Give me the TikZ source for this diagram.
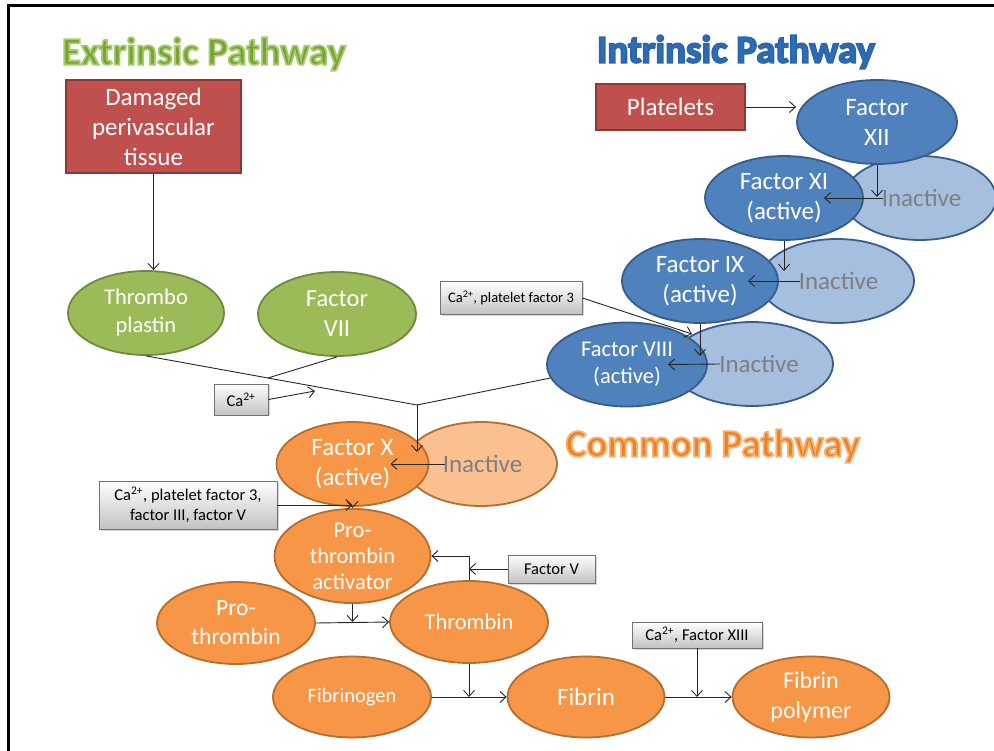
\documentclass[tikz,border=0pt]{standalone}
\usepackage{fontspec}
\setmainfont{Carlito}
\usetikzlibrary{shapes.geometric,arrows.meta,shadows,calc}
\definecolor{redf}{HTML}{C0504D}
\definecolor{redd}{HTML}{8C3836}
\definecolor{grnf}{HTML}{9BBB59}
\definecolor{grnd}{HTML}{71893F}
\definecolor{bluf}{HTML}{4F81BD}
\definecolor{blud}{HTML}{385D8A}
\definecolor{bluL}{HTML}{A7BFDE}
\definecolor{orf}{HTML}{F79646}
\definecolor{ord}{HTML}{B66D31}
\definecolor{orL}{HTML}{FAC090}
\definecolor{inact}{HTML}{7F7F7F}
\definecolor{grnT}{HTML}{76A236}
\definecolor{bluT}{HTML}{2E6DB6}
\definecolor{orT}{HTML}{EB8120}
\newcommand{\outlinedtext}[2]{\special{pdf:literal direct #1 RG 2 Tr 1.8 w}#2\special{pdf:literal direct 0 Tr}}
\newcommand{\fsz}[2]{\fontsize{#1}{#2}\selectfont}
\tikzset{
  redbox/.style={draw=redd, fill=redf, line width=1.5pt, text=white, align=center, inner sep=0pt},
  ell/.style={ellipse, line width=1.8pt, text=white, align=center, inner sep=0pt, minimum width=158pt, minimum height=84pt},
  grnell/.style={ell, draw=grnd, fill=grnf},
  bluell/.style={ell, draw=blud, fill=bluf},
  bluin/.style={ell, draw=blud, fill=bluL, text=inact, font=\fsz{25}{29}},
  orell/.style={ell, draw=ord, fill=orf},
  orin/.style={ell, draw=ord, fill=orL, text=inact, font=\fsz{25}{29}},
  graybox/.style={draw=black!55, line width=0.8pt, top color=white, bottom color=black!24, text=black, align=center, inner sep=0pt, font=\fsz{16.5}{20},
    drop shadow={opacity=0.3, shadow xshift=1.5pt, shadow yshift=-1.5pt}},
  ttl/.style={font=\bfseries\fsz{39}{41}, inner sep=0pt},
  ln/.style={draw=black!85, line width=0.9pt},
  arr/.style={ln, -{Straight Barb[length=6pt,width=11pt]}},
}
\begin{document}
\begin{tikzpicture}[x=1pt,y=-1pt]
\useasboundingbox (0,0) rectangle (994,751);
\fill[white] (0,0) rectangle (994,751);
\draw[line width=3pt] (8,751) -- (8,6) -- (994,6);

% titles
\node[ttl, text=grnT] (ext) at (204,54) {\outlinedtext{0.65 0.80 0.42}{Extrinsic Pathway}};
\node[ttl, text=bluT] (intr) at (736,52) {\outlinedtext{0.17 0.40 0.68}{Intrinsic Pathway}};
\node[ttl, text=orT] (comm) at (713,446) {\outlinedtext{0.98 0.70 0.45}{Common Pathway}};

% extrinsic
\node[redbox, minimum width=175pt, minimum height=93pt, font=\fsz{25}{30}] (dmg) at (153.5,126.5) {Damaged\\perivascular\\tissue};
\node[grnell, minimum width=156pt, font=\fsz{22.5}{28}] (tpl) at (146,313) {Thrombo\\plastin};
\node[grnell, font=\fsz{24.5}{30}] (f7) at (337,314) {Factor\\VII};

% intrinsic
\node[redbox, minimum width=149pt, minimum height=46pt, font=\fsz{25}{29}] (plt) at (670.5,107) {Platelets};
\node[bluin, minimum width=152pt] (i11) at (920,198) {\hspace*{3pt}Inactive};
\node[bluin, minimum width=154pt] (i9) at (837,281) {\hspace*{3pt}Inactive};
\node[bluin, minimum width=162pt] (i8) at (752,364) {\hspace*{14pt}Inactive};
\node[bluell, minimum width=160pt, font=\fsz{25}{30}] (f12) at (877,122) {Factor\\XII};
\node[bluell, font=\fsz{25}{30}] (f11) at (784,198) {Factor XI\\(active)};
\node[bluell, minimum width=156pt, font=\fsz{25}{30}] (f9) at (700,281) {Factor IX\\(active)};
\node[bluell, minimum width=160pt, font=\fsz{22.5}{27}] (f8) at (627,364.5) {Factor VIII\\(active)};

% common
\node[orin, minimum width=152pt] (i10) at (481,464) {\hspace*{3pt}Inactive};
\node[orell, minimum width=152pt, font=\fsz{25}{30}] (f10) at (352.5,464) {Factor X\\(active)};
\node[orell, minimum width=156pt, font=\fsz{22.5}{26}] (pta) at (352.5,556) {Pro-\\thrombin\\activator};
\node[orell, minimum height=82pt, font=\fsz{23.5}{29}] (pro) at (236,623) {Pro-\\thrombin};
\node[orell, minimum height=82pt, font=\fsz{22.5}{26}] (thr) at (469,622) {Thrombin};
\node[orell, minimum width=158pt, minimum height=81pt, font=\fsz{20.5}{24}] (fbg) at (352,697) {Fibrinogen};
\node[orell, minimum width=157pt, minimum height=81pt, font=\fsz{25}{29}] (fib) at (586,697) {Fibrin};
\node[orell, minimum width=157pt, minimum height=81pt, font=\fsz{24}{30}] (fbp) at (811,697) {Fibrin\\polymer};

% gray boxes
\node[graybox, minimum width=54pt, minimum height=31pt] (ca1) at (241,399.5) {Ca\textsuperscript{2+}};
\node[graybox, minimum width=142pt, minimum height=33pt, font=\fsz{14.5}{18}] (ca3) at (511,298) {Ca\textsuperscript{2+}, platelet factor 3};
\node[graybox, minimum width=178pt, minimum height=48pt] (ca2) at (188,505) {Ca\textsuperscript{2+}, platelet factor 3,\\factor III, factor V};
\node[graybox, minimum width=87pt, minimum height=28pt] (fv) at (551.5,569) {Factor V};
\node[graybox, minimum width=130pt, minimum height=26pt] (ca13) at (697,635) {Ca\textsuperscript{2+}, Factor XIII};

% extrinsic connectors
\coordinate (j1) at (417,405);
\coordinate (j2) at ($(tpl.south)!0.45!(j1)$);
\coordinate (ca1t) at (315,391);
\coordinate (fxin) at (417,452);
\draw[arr] (dmg.south) -- (dmg.south |- tpl.north);
\draw[ln] (tpl.south) -- (j1);
\draw[ln] (f7.south) -- (j2);
\draw[arr] (ca1.east) -- (ca1t);
\draw[ln] (f8.190) -- (j1);
\draw[arr] (j1) -- (fxin);

% intrinsic connectors
\coordinate (ca3t) at (692,334);
\draw[arr] (plt.east) -- (plt.east -| f12.west);
\draw[arr] (f12.south) -- ($(f12.south)+(0,32)$);
\draw[arr] ($(i11.center)+(-37,0)$) -- ($(f11.center)+(40,0)$);
\draw[arr] (f11.south) -- ($(f11.south)+(0,30)$);
\draw[arr] ($(i9.center)+(-37,0)$) -- ($(f9.center)+(48,0)$);
\draw[arr] (f9.south) -- ($(f9.south)+(0,32)$);
\draw[arr] (ca3.east) -- (ca3t);
\draw[arr] ($(i8.center)+(-32,0)$) -- ($(f8.center)+(41,0)$);

% common connectors
\draw[arr] ($(i10.center)+(-36,0)$) -- ($(f10.center)+(38,0)$);
\draw[arr] (f10.south) -- (pta.north);
\draw[arr] (ca2.east) -- (ca2.east -| f10.south);
\draw[arr] (thr.north) |- (pta.east);
\draw[arr] (fv.west) -- (fv.west -| thr.north);
\draw[arr] (pro.east) -- (thr.west);
\draw[arr] (pta.south) -- (pta.south |- thr.west);
\draw[arr] (fbg.east) -- (fib.west);
\draw[arr] (thr.south) -- (thr.south |- fib.west);
\draw[arr] (fib.east) -- (fbp.west);
\draw[arr] (ca13.south) -- (ca13.south |- fib.east);
\end{tikzpicture}
\end{document}
